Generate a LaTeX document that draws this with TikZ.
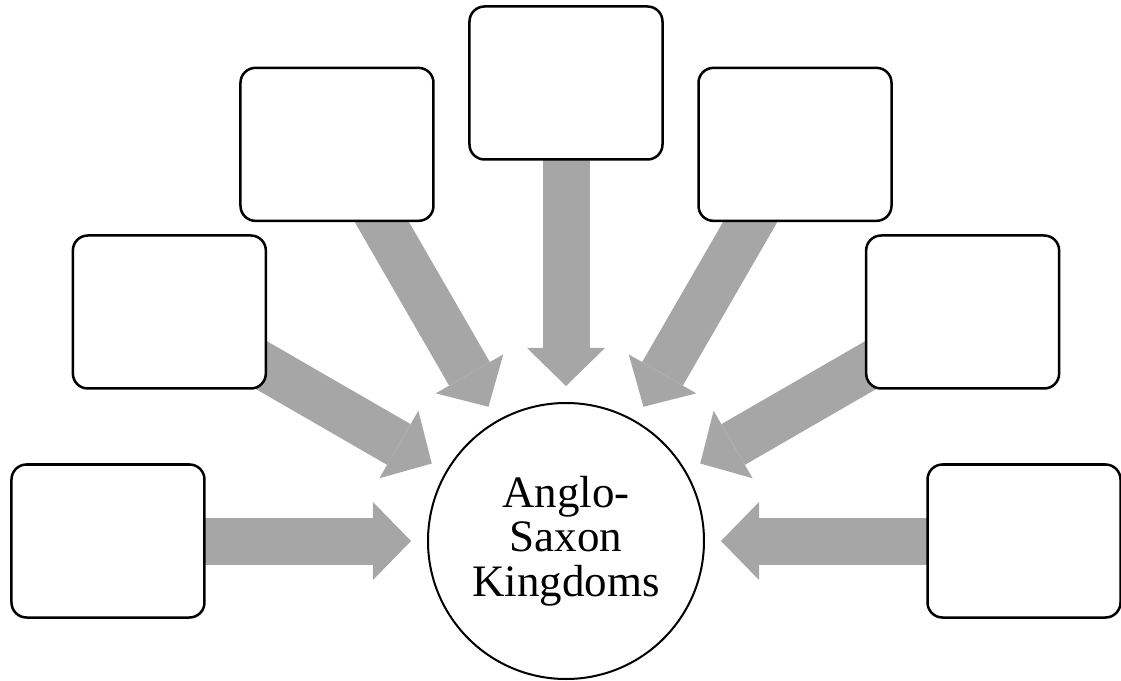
\documentclass[tikz,border=0pt]{standalone}
\usepackage{fontspec}
\setmainfont{Liberation Serif}
\usetikzlibrary{arrows.meta,backgrounds}
\definecolor{arrowgray}{HTML}{A6A6A6}
\begin{document}
\begin{tikzpicture}[x=1pt,y=1pt]
\tikzstyle{kbox}=[draw=black, line width=2.5pt, fill=white, rounded corners=15pt, minimum width=193pt, minimum height=153pt, inner sep=0pt]
\tikzstyle{bigarrow}=[draw=arrowgray, line width=47pt, -{Triangle[width=78pt,length=38pt,line width=0pt]}, shorten >=17pt]
\useasboundingbox (-566,-139) rectangle (555,541);
% centre
\node [draw=black, line width=2pt, circle, minimum size=276pt, inner sep=0pt, outer sep=0pt, align=center, font=\fontsize{45}{44.5}\selectfont] (kingdoms) at (0,0) {Anglo-\\Saxon\\Kingdoms};
% empty boxes round it
\foreach \a [count=\i] in {180,150,120,90,60,30,0}
  \node [kbox] (k\i) at (\a:458) {};
% arrows under the boxes
\begin{scope}[on background layer]
\foreach \i in {1,...,7}
  \draw [bigarrow] (k\i.center) -- (kingdoms);
\end{scope}
\end{tikzpicture}
\end{document}
